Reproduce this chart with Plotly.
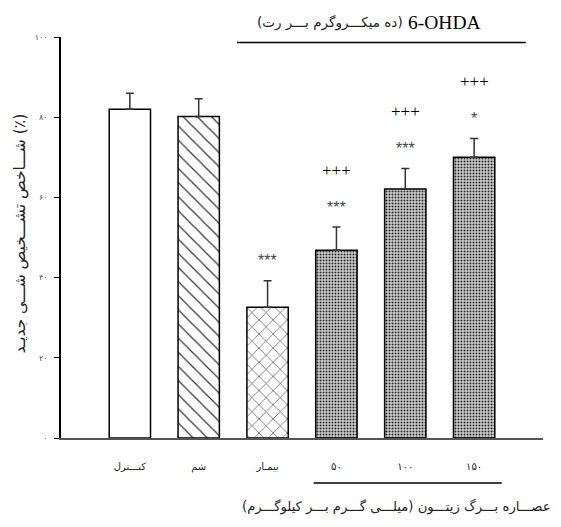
import plotly.graph_objects as go

# ---- data ----
categories = ["کنـــترل", "شم", "بیمـار", "۵۰", "۱۰۰", "۱۵۰"]
means = [82, 80.2, 32.6, 46.8, 62.1, 70.0]
sems = [4.0, 4.4, 6.6, 5.8, 5.1, 4.7]
stars = ["", "", "***", "***", "***", "*"]
plus = ["", "", "", "+++", "+++", "+++"]
ytick_vals = [0, 20, 40, 60, 80, 100]
ytick_text = ["۰", "۲۰", "۴۰", "۶۰", "۸۰", "۱۰۰"]

y_title = "شـــاخص تشـــخیص شـــی جدیـد (٪)"
x_title = "عصـــاره بـــرگ زیتـــون (میلـــی گـــرم بـــر کیلوگـــرم)\u200f"
top_title_fa = "\u200e(ده میکـــروگرم بـــر رت)\u200e"
top_title_en = "6-OHDA"

# ---- styles ----
shapes_p = ["", "\\", "x", ".", ".", "."]
bg = ["white", "white", "white", "#cfcfcf", "#cfcfcf", "#cfcfcf"]
fg = ["#333", "#333", "#333", "#2a2a2a", "#2a2a2a", "#2a2a2a"]
psize = [8, 10, 10, 3, 3, 3]
psol = [0.12, 0.12, 0.12, 0.36, 0.36, 0.36]

xs = list(range(len(categories)))

fig = go.Figure()
for i in xs:
    pat = dict(shape=shapes_p[i], fgcolor=fg[i], bgcolor=bg[i], size=psize[i],
               solidity=psol[i], fillmode="replace") if shapes_p[i] else None
    fig.add_trace(go.Bar(
        x=[xs[i]], y=[means[i]], width=0.6,
        marker=dict(color=bg[i], line=dict(color="black", width=1.5), pattern=pat),
        error_y=dict(type="data", array=[sems[i]], arrayminus=[0],
                     symmetric=False, color="#333", thickness=1.5, width=4),
        showlegend=False,
    ))

ann = []
for i, (m, s) in enumerate(zip(means, sems)):
    if stars[i]:
        ann.append(dict(x=xs[i], y=m + s, xref="x", yref="y", text=stars[i],
                        showarrow=False, yanchor="middle", yshift=20,
                        font=dict(family="Liberation Sans", size=16, color="#444")))
    if plus[i]:
        ann.append(dict(x=xs[i], y=m + s, xref="x", yref="y", text=plus[i],
                        showarrow=False, yanchor="middle", yshift=57,
                        font=dict(family="Liberation Serif", size=17, color="black")))

ann.append(dict(x=-0.085, y=0.51, xref="paper", yref="paper", text=y_title,
                textangle=-90, showarrow=False, xanchor="center", yanchor="middle",
                font=dict(family="DejaVu Sans", size=15.5, color="#222")))
ann.append(dict(x=1.02, y=-0.172, xref="paper", yref="paper", text=x_title,
                showarrow=False, xanchor="right", yanchor="middle",
                font=dict(family="DejaVu Sans", size=13.2, color="#222")))
ann.append(dict(x=0.713, y=1.037, xref="paper", yref="paper", text=top_title_fa,
                showarrow=False, xanchor="right", yanchor="middle",
                font=dict(family="DejaVu Sans", size=13.5, color="#222")))
ann.append(dict(x=0.716, y=1.037, xref="paper", yref="paper", text=top_title_en,
                showarrow=False, xanchor="left", yanchor="middle",
                font=dict(family="Liberation Serif", size=19.5, color="black")))

shapes = [
    dict(type="line", xref="x", yref="paper", x0=1.556, x1=5.75, y0=0.986, y1=0.986,
         line=dict(color="black", width=1.5)),
    dict(type="line", xref="x", yref="paper", x0=2.67, x1=5.4, y0=-0.112, y1=-0.112,
         line=dict(color="black", width=1.5)),
]

fig.update_layout(
    width=553, height=519,
    margin=dict(l=53, r=18, t=29, b=89),
    paper_bgcolor="white", plot_bgcolor="white",
    annotations=ann, shapes=shapes,
    barmode="overlay",
    xaxis=dict(range=[-1, 6], tickvals=xs, ticktext=categories, showline=True,
               linecolor="#555", linewidth=2, ticks="", showgrid=False, zeroline=False,
               ticklabelstandoff=18,
               tickfont=dict(family="DejaVu Sans", size=10, color="#222")),
    yaxis=dict(range=[0, 100], tickvals=ytick_vals, ticktext=ytick_text, showline=True,
               linecolor="black", linewidth=1.5, ticks="outside", ticklen=5,
               tickcolor="black", tickwidth=1.2, showgrid=False, zeroline=False,
               ticklabelstandoff=5,
               tickfont=dict(family="DejaVu Sans", size=8, color="#444")),
)

fig.write_html("out.html")
